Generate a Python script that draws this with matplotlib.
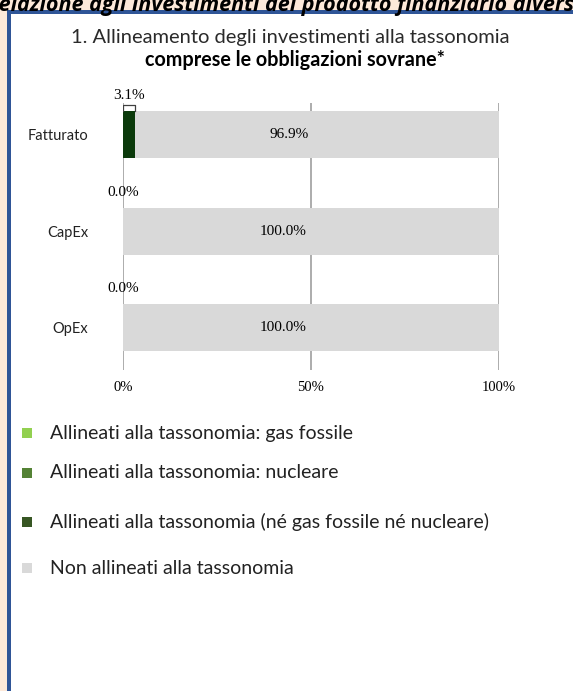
import matplotlib
matplotlib.use('Agg')
import matplotlib.pyplot as plt
from matplotlib.patches import Rectangle

categorie = ['Fatturato', 'CapEx', 'OpEx']
gas_fossile = [0.0, 0.0, 0.0]
nucleare = [0.0, 0.0, 0.0]
ne_gas_ne_nucleare = [3.1, 0.0, 0.0]
non_allineati = [96.9, 100.0, 100.0]
tick_valori = [0, 50, 100]
tick_etichette = ['0%', '50%', '100%']

legenda = ['Allineati alla tassonomia: gas fossile',
           'Allineati alla tassonomia: nucleare',
           'Allineati alla tassonomia (né gas fossile né nucleare)',
           'Non allineati alla tassonomia']
colori = ['#92D050', '#548235', '#0B3A0B', '#D9D9D9']
colori_legenda = ['#92D050', '#548235', '#375623', '#D9D9D9']

W, H = 573, 691
fig = plt.figure(figsize=(W / 100, H / 100), dpi=100)
fig.patch.set_facecolor('white')

def fx(px):
    return px / W

def fy(py):
    return 1 - py / H

# cornice: fascia pesca e bordo blu
fig.patches.append(Rectangle((0, 0), fx(7), 1, transform=fig.transFigure,
                             facecolor='#FDE9D9', edgecolor='none', zorder=0))
fig.patches.append(Rectangle((0, fy(11)), 1, 11 / H, transform=fig.transFigure,
                             facecolor='#FDE9D9', edgecolor='none', zorder=0))
fig.patches.append(Rectangle((fx(7), 0), fx(4), fy(11), transform=fig.transFigure,
                             facecolor='#2F5597', edgecolor='none', zorder=1))
fig.patches.append(Rectangle((fx(7), fy(14)), 1, 4 / H, transform=fig.transFigure,
                             facecolor='#2F5597', edgecolor='none', zorder=1))

fig.text(fx(-10), fy(11), 'relazione agli investimenti del prodotto finanziario diversi dalle',
         fontsize=15.5, fontweight='bold', fontstyle='italic', family='Open Sans',
         ha='left', va='baseline', color='black')

# titolo
fig.text(fx(290), fy(37), '1. Allineamento degli investimenti alla tassonomia',
         fontsize=14.5, family='Lato', ha='center', va='center', color='#2a2a2a')
fig.text(fx(295), fy(60), 'comprese le obbligazioni sovrane*',
         fontsize=14.2, family='Lato', fontweight='bold', ha='center', va='center', color='black')

ax = fig.add_axes([fx(123), fy(370), fx(499 - 123), (370 - 103) / H])
ax.set_facecolor('none')

y = list(range(len(categorie)))
h = 0.49
serie = [gas_fossile, nucleare, ne_gas_ne_nucleare, non_allineati]
left = [0.0] * len(categorie)
for vals, c in zip(serie, colori):
    ax.barh(y, vals, left=left, height=h, color=c, zorder=2)
    left = [l + v for l, v in zip(left, vals)]

ax.set_xlim(0, 100)
ax.set_ylim(2.44, -0.33)
ax.set_xticks(tick_valori)
ax.set_xticklabels(tick_etichette)
ax.set_yticks(y)
ax.set_yticklabels(categorie)
ax.tick_params(length=0)
ax.tick_params(axis='x', pad=8)
ax.tick_params(axis='y', pad=25)
for lab in ax.get_xticklabels():
    lab.set_family('Liberation Serif')
    lab.set_fontsize(10.5)
for lab in ax.get_yticklabels():
    lab.set_family('Lato')
    lab.set_fontsize(10.5)
    lab.set_color('#222222')
ax.grid(axis='x', color='#A6A6A6', linewidth=1.3, zorder=1)
for s in ax.spines.values():
    s.set_visible(False)

# etichette dati
for i in y:
    v = ne_gas_ne_nucleare[i]
    start = gas_fossile[i] + nucleare[i]
    ax.annotate(f'{v:.1f}%', (start + v / 2, i - h / 2), xytext=(0, 11),
                textcoords='offset points', ha='center', va='center',
                family='Liberation Serif', fontsize=11, zorder=4)
    if v > 0:
        ytop = i - h / 2
        ax.plot([start, start, start + v, start + v],
                [ytop - 0.005, ytop - 0.06, ytop - 0.06, ytop - 0.005],
                color='#404040', linewidth=0.9, zorder=3)
    g = non_allineati[i]
    gs = start + v
    ax.annotate(f'{g:.1f}%', (gs + g / 2, i), xytext=(-20, 0),
                textcoords='offset points', ha='center', va='center',
                family='Liberation Serif', fontsize=11, zorder=4)

# legenda
leg_y = [433, 473, 522, 568]
for testo, c, py in zip(legenda, colori_legenda, leg_y):
    fig.patches.append(Rectangle((fx(22), fy(py + 5)), fx(10), 10 / H,
                                 transform=fig.transFigure, facecolor=c, edgecolor='none'))
    fig.text(fx(50), fy(py), testo, fontsize=14, family='Lato',
             ha='left', va='center', color='#222222')

fig.savefig('out.png', dpi=100)
